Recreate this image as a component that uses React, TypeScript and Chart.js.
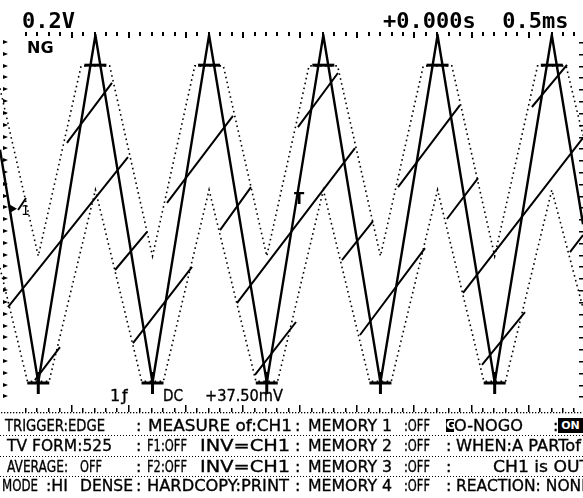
import React, { useEffect, useRef } from 'react';
import { Chart, registerables } from 'chart.js';

Chart.register(...registerables);

// Time axis in ms (0.5 ms/div), voltage axis in V (0.2 V/div)
const X_MIN = 0;
const X_MAX = 5.103;
const Y_MIN = -0.86;
const Y_MAX = 0.74;

// CH1 triangle wave vertices
const signalT = [0, 0.335, 0.835, 1.335, 1.83, 2.335, 2.83, 3.33, 3.83, 4.33, 4.83, 5.103];
const signalV = [0.25, -0.735, 0.735, -0.735, 0.735, -0.735, 0.735, -0.735, 0.735, -0.735, 0.735, -0.065];

// GO/NO-GO mask: upper limit (dotted)
const upperT = [0, 0.335, 0.71, 0.96, 1.335, 1.705, 1.955, 2.335, 2.705, 2.955, 3.33, 3.705, 3.955, 4.33, 4.705, 4.955, 5.103];
const upperV = [0.51, -0.2, 0.605, 0.605, -0.2, 0.605, 0.605, -0.2, 0.605, 0.605, -0.2, 0.605, 0.605, -0.2, 0.605, 0.605, 0.31];

// GO/NO-GO mask: lower limit (dotted)
const lowerT = [0, 0.24, 0.43, 0.835, 1.24, 1.43, 1.83, 2.24, 2.43, 2.83, 3.235, 3.425, 3.83, 4.235, 4.425, 4.83, 5.103];
const lowerV = [-0.25, -0.73, -0.73, 0.08, -0.73, -0.73, 0.08, -0.73, -0.73, 0.08, -0.73, -0.73, 0.08, -0.73, -0.73, 0.08, -0.42];

// Short slanted trace segments (start / end)
const segT0 = [0.586, 0.07, 1.462, 1.926, 0.158, 1.007, 1.164, 0.306, 2.074, 2.232, 2.993, 3.151, 3.912, 4.053, 4.219, 4.989, 3.484, 2.608, 4.656];
const segV0 = [0.279, -0.416, 0.025, -0.09, -0.005, -0.259, -0.568, -0.725, -0.399, -0.703, -0.217, -0.534, -0.043, -0.356, -0.661, -0.183, 0.092, 0.346, 0.431];
const segT1 = [0.98, 1.12, 2.039, 2.197, 0.228, 1.287, 1.681, 0.525, 3.107, 2.591, 3.265, 3.72, 4.184, 5.103, 4.595, 5.103, 4.026, 2.958, 4.963];
const segV1 = [0.533, 0.219, 0.393, 0.092, 0.046, -0.098, -0.246, -0.585, 0.257, -0.479, -0.052, -0.166, 0.13, 0.3, -0.437, -0.111, 0.439, 0.575, 0.609];

// Cursor bars at peaks and troughs
const topBarT = [0.835, 1.83, 2.83, 3.83, 4.83];
const topBarV = [0.608, 0.608, 0.608, 0.608, 0.608];
const botBarT = [0.335, 1.335, 2.335, 3.33, 4.33];
const botBarV = [-0.737, -0.737, -0.737, -0.737, -0.737];

// Graticule reference values
const GRID_T_START = 0.119;
const GRID_V_START = 0.706;

// Header / status texts
const headerLeft = '0.2V';
const headerRight = '+0.000s  0.5ms';
const statusTexts: [number, number, string][] = [
  [110, 0, '1'],
  [122, 0, 'ƒ'],
  [163, 20, 'DC'],
  [205, 78, '+37.50mV'],
];

// Bottom table: [row, x, width, text]
const tableRowTop = [418, 438, 459, 478];
const tableCells: [number, number, number, string][] = [
  [0, 5, 100, 'TRIGGER:EDGE'],
  [0, 148, 144, 'MEASURE of:CH1'],
  [0, 308, 84, 'MEMORY 1'],
  [0, 404, 26, ':OFF'],
  [0, 454, 69, 'O-NOGO'],
  [0, 553, 0, ':'],
  [1, 7, 105, 'TV FORM:525'],
  [1, 147, 40, 'F1:OFF'],
  [1, 200, 90, 'INV=CH1'],
  [1, 308, 84, 'MEMORY 2'],
  [1, 404, 26, ':OFF'],
  [1, 456, 125, 'WHEN:A PARTof'],
  [2, 7, 61, 'AVERAGE:'],
  [2, 80, 22, 'OFF'],
  [2, 147, 40, 'F2:OFF'],
  [2, 200, 90, 'INV=CH1'],
  [2, 308, 84, 'MEMORY 3'],
  [2, 404, 26, ':OFF'],
  [2, 493, 97, 'CH1 is OUT'],
  [3, 2, 36, 'MODE'],
  [3, 46, 22, ':HI'],
  [3, 80, 53, 'DENSE'],
  [3, 147, 142, 'HARDCOPY:PRINT'],
  [3, 308, 84, 'MEMORY 4'],
  [3, 404, 26, ':OFF'],
  [3, 456, 135, 'REACTION: NONE'],
];
const separatorX = [136, 295, 446];
const rowLineY = [435, 456, 476];

const TABLE_FONT = '16px "DejaVu Sans", "Liberation Sans", sans-serif';

let measureCtx: CanvasRenderingContext2D | null = null;
function fitScale(text: string, font: string, width: number): number {
  if (!width) return 1;
  if (!measureCtx) measureCtx = document.createElement('canvas').getContext('2d');
  if (!measureCtx) return 1;
  measureCtx.font = font;
  const w = measureCtx.measureText(text).width;
  return w > 0 ? width / w : 1;
}

const graticule = {
  id: 'graticule',
  beforeDatasetsDraw(chart: any) {
    const { ctx, chartArea: a, scales } = chart;
    const xs = scales.x;
    const ys = scales.y;
    ctx.save();
    ctx.fillStyle = '#000';
    for (let k = -1; k <= 50; k++) {
      const px = Math.round(xs.getPixelForValue(GRID_T_START + k * 0.1));
      if (px < 20 || px > a.right - 2) continue;
      const major = k % 5 === 0;
      ctx.fillRect(px, a.top - 2, 2, major ? 6 : 4);
      ctx.fillRect(px, a.bottom - (major ? 7 : 4), 1.5, major ? 7 : 4);
    }
    for (let px = 1; px < a.right; px += 3) ctx.fillRect(px, a.bottom, 1.3, 1.3);
    for (let k = 0; k < 40; k++) {
      const py = Math.round(ys.getPixelForValue(GRID_V_START - k * 0.05));
      if (py > a.bottom - 6) break;
      ctx.beginPath();
      ctx.moveTo(3, py - 2);
      ctx.lineTo(8, py);
      ctx.lineTo(3, py + 2);
      ctx.closePath();
      ctx.fill();
      ctx.fillRect(579, py, 4, 1.5);
    }
    const g = ys.getPixelForValue(0);
    ctx.beginPath();
    ctx.moveTo(10, g - 4);
    ctx.lineTo(17, g);
    ctx.lineTo(10, g + 4);
    ctx.closePath();
    ctx.fill();
    ctx.restore();
  },
};

function pts(t: number[], v: number[]) {
  return t.map((x, i) => ({ x, y: v[i] }));
}

export default function App() {
  const ref = useRef<HTMLCanvasElement>(null);

  useEffect(() => {
    if (!ref.current) return;
    const segData: { x: number; y: number | null }[] = [];
    segT0.forEach((t, i) => {
      segData.push({ x: t, y: segV0[i] }, { x: segT1[i], y: segV1[i] }, { x: segT1[i], y: null });
    });
    const chart = new Chart(ref.current, {
      type: 'line',
      data: {
        datasets: [
          {
            data: pts(topBarT, topBarV) as any,
            showLine: false,
            pointStyle: 'line',
            pointRadius: 11,
            pointBorderWidth: 3,
            pointBorderColor: '#000',
            pointBackgroundColor: '#000',
          },
          {
            data: pts(botBarT, botBarV) as any,
            showLine: false,
            pointStyle: 'cross',
            pointRadius: 11,
            pointBorderWidth: 3,
            pointBorderColor: '#000',
            pointBackgroundColor: '#000',
          },
          {
            data: pts(signalT, signalV) as any,
            borderColor: '#000',
            borderWidth: 2.4,
            pointRadius: 0,
          },
          {
            data: segData as any,
            borderColor: '#000',
            borderWidth: 2,
            pointRadius: 0,
            spanGaps: false,
          },
          {
            data: pts(upperT, upperV) as any,
            borderColor: '#000',
            borderWidth: 1.6,
            borderDash: [1.6, 3.4],
            pointRadius: 0,
          },
          {
            data: pts(lowerT, lowerV) as any,
            borderColor: '#000',
            borderWidth: 1.6,
            borderDash: [1.6, 3.4],
            pointRadius: 0,
          },
        ],
      },
      options: {
        animation: false,
        responsive: false,
        devicePixelRatio: 1,
        events: [],
        layout: { autoPadding: false, padding: { left: 0, right: 0, top: 34, bottom: 86 } },
        plugins: { legend: { display: false }, tooltip: { enabled: false } },
        elements: { line: { tension: 0 }, point: { radius: 0 } },
        scales: {
          x: { type: 'linear', min: X_MIN, max: X_MAX, display: false },
          y: { type: 'linear', min: Y_MIN, max: Y_MAX, display: false },
        },
      },
      plugins: [graticule],
    });
    return () => chart.destroy();
  }, []);

  const abs = (left: number, top: number, extra: React.CSSProperties = {}): React.CSSProperties => ({
    position: 'absolute',
    left,
    top,
    whiteSpace: 'pre',
    color: '#000',
    ...extra,
  });

  const tableText = (key: string, x: number, top: number, w: number, text: string) => (
    <div
      key={key}
      style={abs(x, top, {
        font: TABLE_FONT,
        lineHeight: '16px',
        WebkitTextStroke: '0.35px #000',
        transform: `scaleX(${fitScale(text, TABLE_FONT, w)})`,
        transformOrigin: '0 0',
      })}
    >
      {text}
    </div>
  );

  return (
    <div
      style={{
        position: 'absolute',
        left: 0,
        top: 0,
        width: 583,
        height: 498,
        overflow: 'hidden',
        background: '#fff',
      }}
    >
      <canvas ref={ref} width={583} height={498} style={{ position: 'absolute', left: 0, top: 0, width: 583, height: 498 }} />
      <div style={abs(22, 10, { font: 'bold 22px "DejaVu Sans Mono", monospace', lineHeight: '22px' })}>{headerLeft}</div>
      <div style={abs(383, 10, { font: 'bold 22px "DejaVu Sans Mono", monospace', lineHeight: '22px' })}>{headerRight}</div>
      <div style={abs(27, 40, { font: 'bold 16px "DejaVu Sans", sans-serif', lineHeight: '16px' })}>NG</div>
      <div style={abs(21, 203, { font: '14px "DejaVu Sans", sans-serif', lineHeight: '14px' })}>1</div>
      <div style={abs(294, 192, { font: 'bold 15px "DejaVu Sans", sans-serif', lineHeight: '15px' })}>T</div>
      {statusTexts.map(([x, w, t], i) => tableText('s' + i, x, 388, w, t))}
      {rowLineY.map((y, i) => (
        <div
          key={'l' + i}
          style={{
            position: 'absolute',
            left: 0,
            top: y,
            width: 583,
            height: 1,
            backgroundImage: 'repeating-linear-gradient(90deg, #000 0 1px, transparent 1px 3px)',
          }}
        />
      ))}
      {tableRowTop.map((top, r) =>
        separatorX.map((x, j) =>
          r === 0 && j === 2 ? null : tableText(`c${r}-${j}`, x, top, 0, ':')
        )
      )}
      {tableCells.map(([r, x, w, t], i) => tableText('t' + i, x, tableRowTop[r], w, t))}
      <div
        style={abs(446, 419, {
          width: 8,
          height: 13,
          background: '#000',
          color: '#fff',
          font: 'bold 12px "DejaVu Sans", sans-serif',
          lineHeight: '13px',
          textAlign: 'center',
          overflow: 'hidden',
        })}
      >
        G
      </div>
      <div
        style={abs(558, 418, {
          width: 25,
          height: 15,
          background: '#000',
          color: '#fff',
          font: 'bold 11px "DejaVu Sans", sans-serif',
          lineHeight: '15px',
          textAlign: 'center',
        })}
      >
        ON
      </div>
    </div>
  );
}
